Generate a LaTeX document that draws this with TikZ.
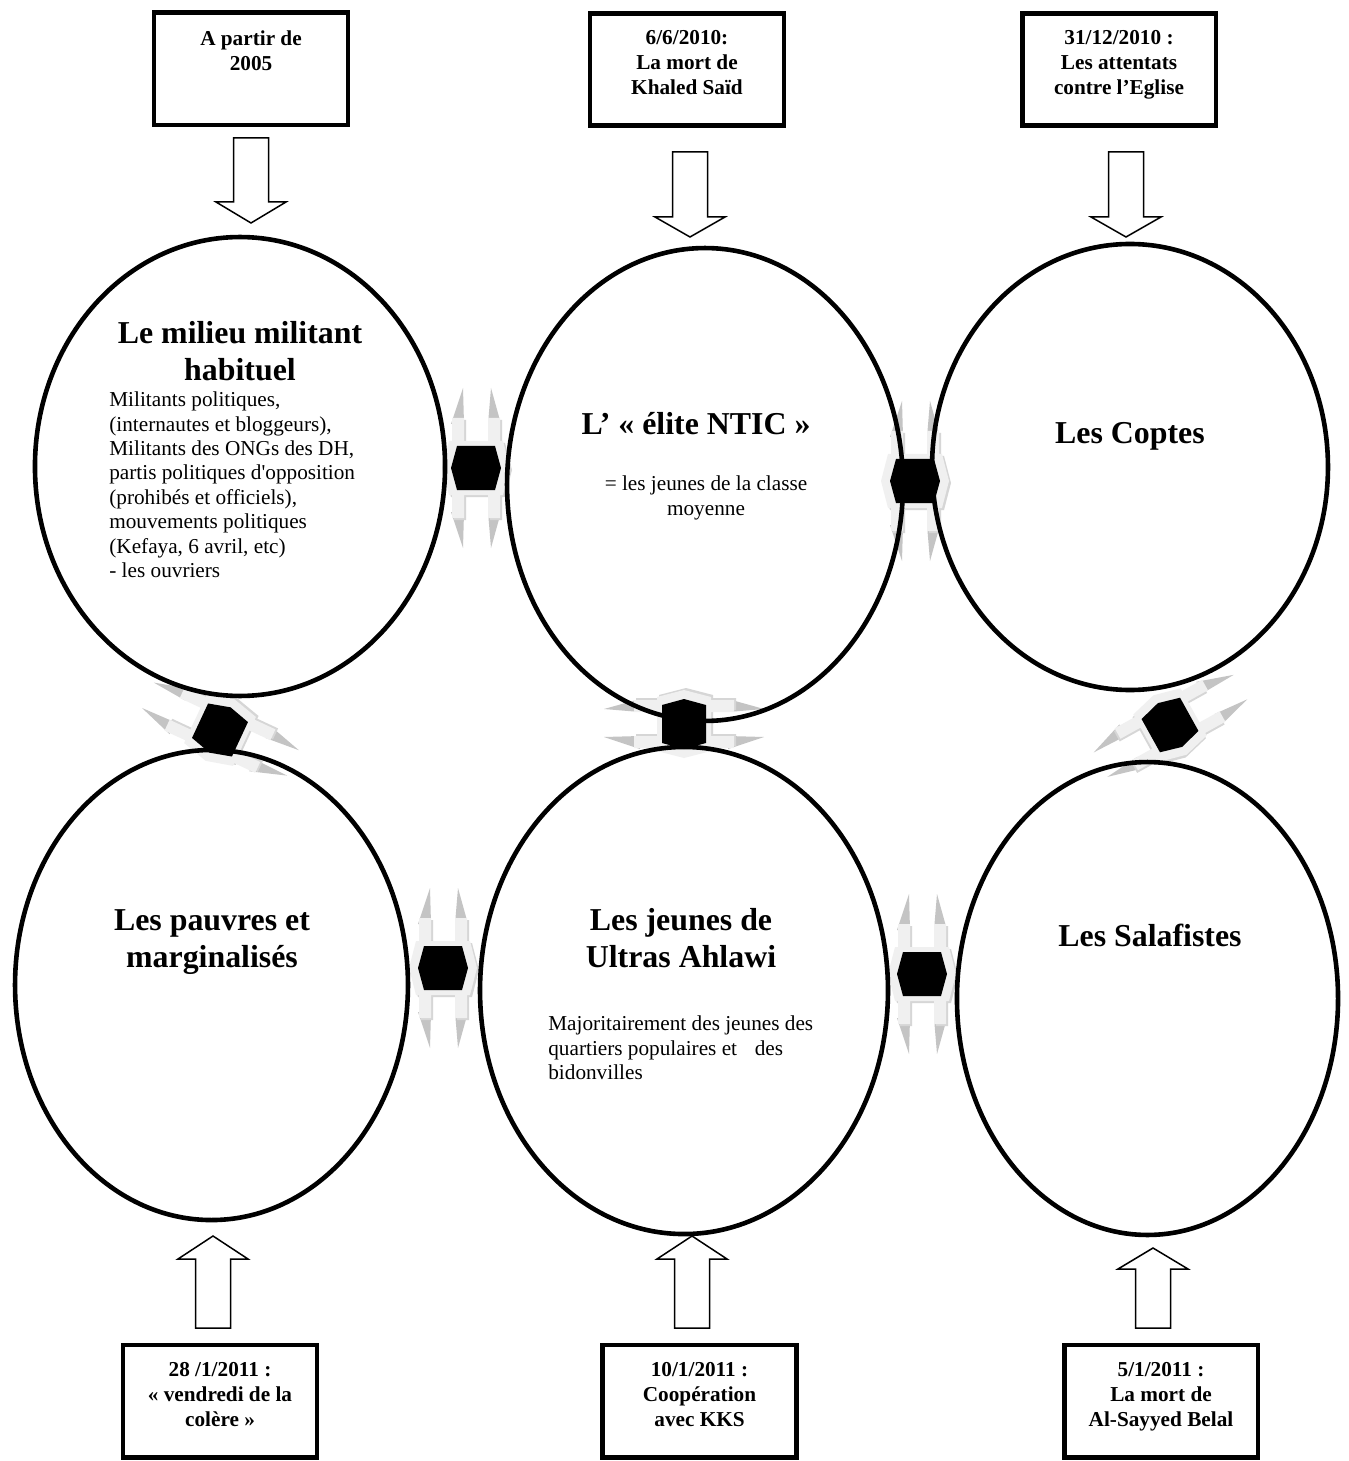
\documentclass[tikz,border=0pt]{standalone}
\usepackage{fontspec}
\setmainfont{Liberation Serif}[Ligatures=TeXOff]
\usetikzlibrary{shapes.geometric,calc}
\definecolor{linkframe}{RGB}{240,240,240}
\definecolor{linkshade}{RGB}{214,214,214}
\definecolor{linkspike}{RGB}{196,196,196}

\begin{document}
\begin{tikzpicture}[x=0.565pt,y=-0.565pt,
	datebox/.style={draw,line width=2.8pt,minimum width=109.6pt,minimum height=63.3pt,inner sep=0pt,outer sep=0pt},
	datetext/.style={anchor=north,align=center,inner sep=0pt,font=\fontsize{12}{14.1}\selectfont\bfseries},
	groupshape/.style={draw,ellipse,line width=2.6pt,inner sep=0pt},
	grouptitle/.style={align=center,inner sep=0pt,font=\fontsize{18}{20.9}\selectfont\bfseries},
	groupbody/.style={inner sep=0pt,font=\fontsize{12}{13.8}\selectfont},
	blockarrow/.style={draw,fill=white,line width=0.85pt,line join=miter},
	link/.pic={
		\fill[linkspike] (-25,-44) -- (-12,-44) -- (-13,-80) -- cycle (12,-44) -- (25,-44) -- (15,-80) -- cycle
			(-25,44) -- (-12,44) -- (-13,80) -- cycle (12,44) -- (25,44) -- (15,80) -- cycle;
		\foreach \d/\c in {2/linkshade,0/linkframe}
			\fill[\c,shift={(\d,\d)}] (-34,0) -- (-27,-27) -- (-24,-27) -- (-24,-50) -- (-12,-50) -- (-12,-27) -- (12,-27) -- (12,-50) -- (24,-50) -- (24,-27) -- (27,-27)
				-- (34,0) -- (27,27) -- (24,27) -- (24,50) -- (12,50) -- (12,27) -- (-12,27) -- (-12,50) -- (-24,50) -- (-24,27) -- (-27,27) -- cycle;
		\fill[black] (-25,0) -- (-19,-22) -- (19,-22) -- (25,0) -- (19,22) -- (-19,22) -- cycle;
	}]
	\fill[white] (0,0) rectangle (1348,1461);
	\useasboundingbox (0,0) rectangle (1348,1461);

	\foreach \x/\y/\a in {476/468/0,915/481/0,220/730/65,684/724/90,1170/725/-61,443/968/0,922/974/0}
		\pic[rotate=\a] at (\x,\y) {link};

	\node[groupshape,minimum width=231.7pt,minimum height=259.3pt] (e1) at (240,466.5) {};
	\node[groupshape,minimum width=223.7pt,minimum height=267.2pt] (e2) at (705,484.5) {};
	\node[groupshape,minimum width=223.7pt,minimum height=252pt] (e3) at (1130,467) {};
	\node[groupshape,minimum width=222pt,minimum height=265.6pt] (e4) at (211.5,985) {};
	\node[groupshape,minimum width=230.5pt,minimum height=275.2pt] (e5) at (684,990.5) {};
	\node[groupshape,minimum width=215.3pt,minimum height=267.2pt] (e6) at (1147.5,998.5) {};

	\node[grouptitle,anchor=north] (t1) at (240,321.5) {Le milieu militant\\habituel};
	\node[groupbody,anchor=north west,align=left] (s1) at (109,391.5) {Militants politiques,\\(internautes et bloggeurs),\\Militants des ONGs des DH,\\partis politiques d'opposition\\(prohibés et officiels),\\mouvements politiques\\(Kefaya, 6 avril, etc)\\- les ouvriers};
	\node[grouptitle,anchor=base] (t2) at (696,435) {L’ « élite NTIC »};
	\node[groupbody,anchor=north,align=center] (s2) at (706,475.5) {= les jeunes de la classe\\moyenne};
	\node[grouptitle,anchor=base] (t3) at (1130,444) {Les Coptes};
	\node[grouptitle,anchor=north] (t4) at (212,909) {Les pauvres et\\marginalisés};
	\node[grouptitle,anchor=north] (t5) at (681,908.5) {Les jeunes de\\Ultras Ahlawi};
	\node[groupbody,anchor=north west,align=left] (s5) at (548,1015.5) {Majoritairement des jeunes des\\quartiers populaires et\hspace*{10pt}des\\bidonvilles};
	\node[grouptitle,anchor=base] (t6) at (1150,946) {Les Salafistes};

	\node[datebox] (b1) at (251,69) {};
	\node[datebox] (b2) at (687,69.5) {};
	\node[datebox] (b3) at (1119,69.5) {};
	\node[datebox] (b4) at (220,1401) {};
	\node[datebox] (b5) at (699.5,1401) {};
	\node[datebox] (b6) at (1161,1401) {};
	\node[datetext] (d1) at ($(b1.north)+(0,17)$) {A partir de\\2005};
	\node[datetext] (d2) at ($(b2.north)+(0,17)$) {6/6/2010:\\La mort de\\Khaled Saïd};
	\node[datetext] (d3) at ($(b3.north)+(0,17)$) {31/12/2010 :\\Les attentats\\contre l’Eglise};
	\node[datetext] (d4) at ($(b4.north)+(0,17)$) {28 /1/2011 :\\« vendredi de la\\colère »};
	\node[datetext] (d5) at ($(b5.north)+(0,17)$) {10/1/2011 :\\Coopération\\avec KKS};
	\node[datetext] (d6) at ($(b6.north)+(0,17)$) {5/1/2011 :\\La mort de\\Al-Sayyed Belal};

	\foreach \c/\t/\b/\p in {251/138/202/223,690/152/217/237,1126/152/217/237,213/1328/1259/1236,692/1328/1259/1236,1153/1328/1269/1248}
		\draw[blockarrow] (\c-17.5,\t) -- (\c+17.5,\t) -- (\c+17.5,\b) -- (\c+35,\b) -- (\c,\p) -- (\c-35,\b) -- (\c-17.5,\b) -- cycle;
\end{tikzpicture}
\end{document}
